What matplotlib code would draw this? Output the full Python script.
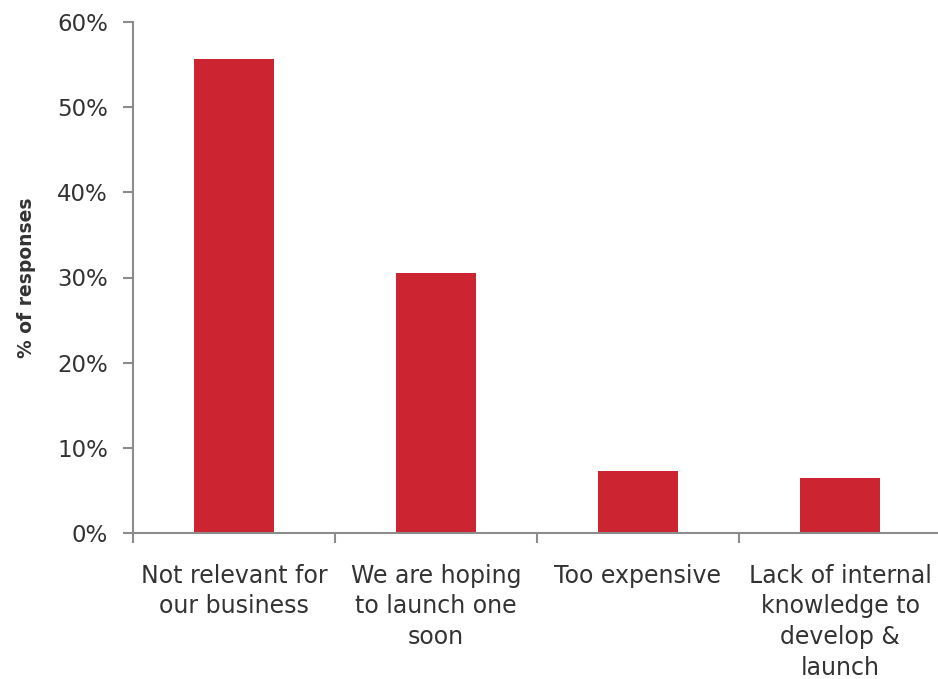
import numpy as np
import matplotlib.pyplot as plt
from matplotlib.ticker import FuncFormatter, FixedLocator

# reasons for not having one, share of responses
categories = ["Not relevant for\nour business",
              "We are hoping\nto launch one\nsoon",
              "Too expensive",
              "Lack of internal\nknowledge to\ndevelop &\nlaunch"]
responses = [55.6, 30.5, 7.3, 6.5]

bar_color = "#cc2531"
axis_color = "#8c8c8c"
text_color = "#333333"

plt.rcParams['font.family'] = ['DejaVu Sans']

fig = plt.figure(figsize=(9.38, 6.79), dpi=100)
ax = fig.add_axes([133 / 938, 1 - 533 / 679, 808 / 938, 511 / 679])

x = np.arange(len(categories))
ax.bar(x, responses, width=0.4, color=bar_color, zorder=2)

ax.set_xlim(-0.5, len(categories) - 0.5)
ax.set_ylim(0, 60)
ax.set_yticks(np.arange(0, 61, 10))
ax.yaxis.set_major_formatter(FuncFormatter(lambda v, p: f"{v:.0f}%"))

# tick marks between categories, labels centred under each bar
ax.xaxis.set_major_locator(FixedLocator(np.arange(-0.5, len(categories), 1.0)))
ax.xaxis.set_major_formatter(FuncFormatter(lambda v, p: ""))
ax.xaxis.set_minor_locator(FixedLocator(x))
ax.set_xticklabels(categories, minor=True, fontsize=17, color=text_color,
                   linespacing=1.36, va="top")
ax.tick_params(axis="x", which="major", length=7, width=1.5, color=axis_color, direction="out")
ax.tick_params(axis="x", which="minor", length=0, pad=22)
ax.tick_params(axis="y", length=7, width=1.5, color=axis_color, direction="out",
               labelsize=16.5, labelcolor=text_color, pad=11)

for side in ["top", "right"]:
    ax.spines[side].set_visible(False)
for side in ["left", "bottom"]:
    ax.spines[side].set_color(axis_color)
    ax.spines[side].set_linewidth(1.5)

ax.set_ylabel("% of responses", fontsize=13.5, fontweight="bold", color=text_color, labelpad=15)

fig.savefig("out.png", dpi=100)
